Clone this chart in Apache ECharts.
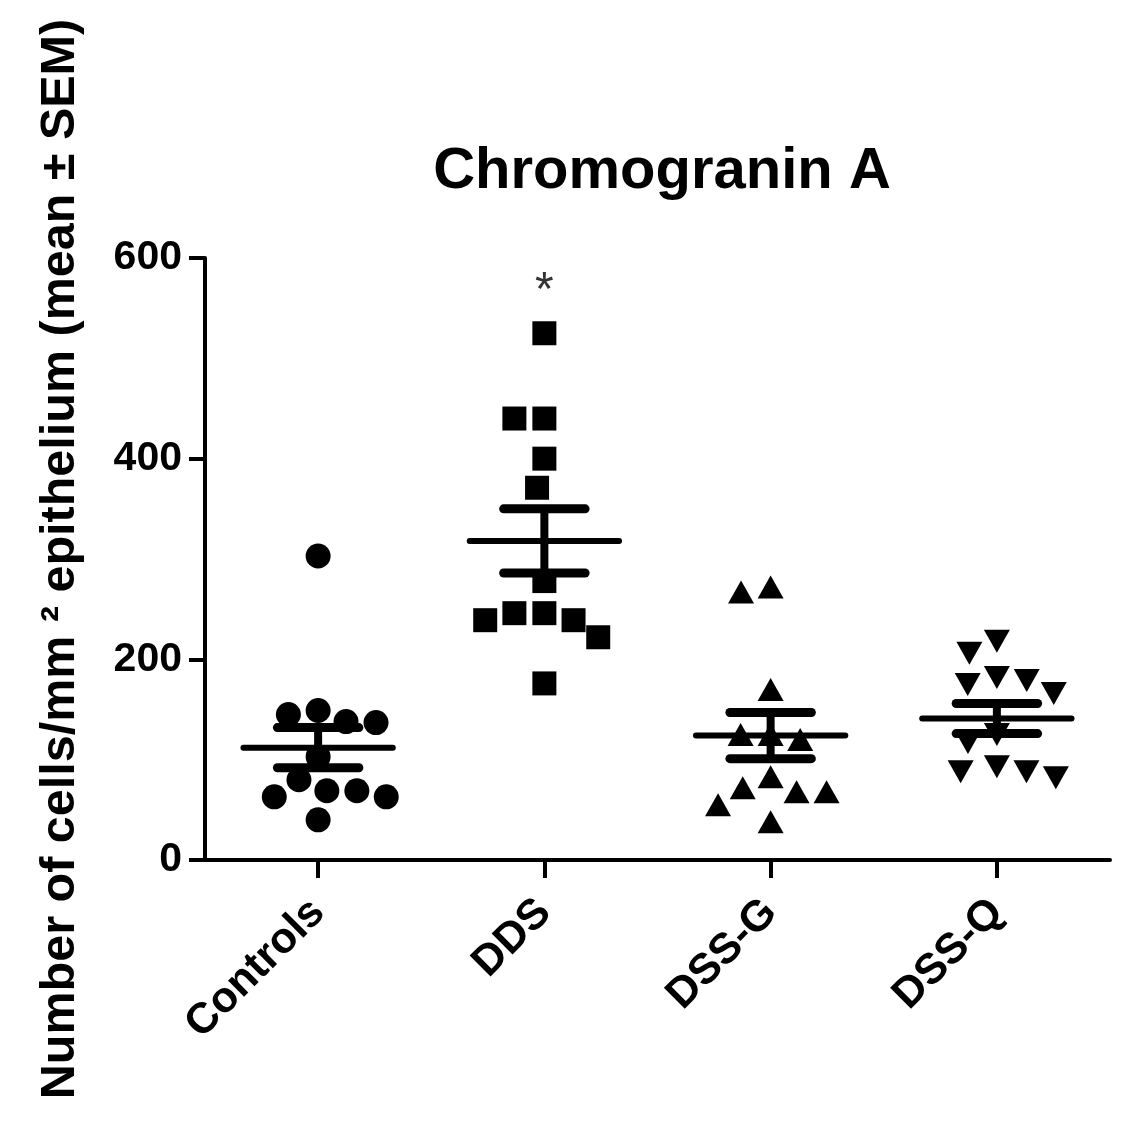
<!DOCTYPE html>
<html lang="en">
<head>
  <meta charset="UTF-8">
  <title>Chromogranin A</title>
  <script src="https://cdn.jsdelivr.net/npm/echarts@6/dist/echarts.min.js"></script>
</head>
<body style="margin:0;background:#fff;">
<div id="main" style="width: 1130px;height:1121px;"></div>
<script type="text/javascript">

// groups and the values
var categories = ['Controls', 'DDS', 'DSS-G', 'DSS-Q'];
var controls = [303, 149, 145, 138, 137, 103, 80, 69, 69, 63, 63, 40];
var dds = [525, 440, 440, 400, 371, 278, 246, 246, 239, 239, 222, 176];
var dssG = [272, 267, 170, 125, 125, 120, 83, 72, 68, 68, 55, 38];
var dssQ = [218, 206, 182, 179, 175, 166, 125, 117, 93, 88, 88, 82];
var means = [112, 318, 124, 141];
var sems = [20, 32, 23, 15];
var yTicks = [0, 200, 400, 600];
var starGroup = 'DDS';
var starValue = 575;

var FONT = '"Liberation Sans", Arial, Helvetica, sans-serif';
var gridTop = 258, gridBottom = 261, gridLeft = 205, gridRight = 20;
var plotH = 1121 - gridTop - gridBottom;
var pxPerUnit = plotH / (yTicks[yTicks.length - 1] - yTicks[0]);

// simple beeswarm: spread points sideways so symbols don't sit on each other
function swarm(values, diam) {
  var order = values.map(function (v, i) { return i; });
  order.sort(function (a, b) { return values[b] - values[a]; });
  var placed = [];
  var offs = new Array(values.length);
  order.forEach(function (i) {
    var y = values[i] * pxPerUnit;
    var cands = [0];
    placed.forEach(function (p) {
      var dy = Math.abs(p.y - y);
      if (dy < diam) {
        var w = Math.sqrt(diam * diam - dy * dy);
        cands.push(p.x - w, p.x + w);
      }
    });
    cands.sort(function (a, b) { return Math.abs(a) - Math.abs(b) || a - b; });
    var x = 0;
    for (var k = 0; k < cands.length; k++) {
      var c = cands[k];
      var ok = placed.every(function (p) {
        var dx = p.x - c, dy = p.y - y;
        return dx * dx + dy * dy >= diam * diam - 0.5;
      });
      if (ok) { x = c; break; }
    }
    placed.push({x: x, y: y});
    offs[i] = x;
  });
  return offs;
}

function groupData(cat, values) {
  var offs = swarm(values, 30);
  return values.map(function (v, i) {
    return {value: [cat, v], symbolOffset: [offs[i], 0]};
  });
}

var groups = [controls, dds, dssG, dssQ];
var shapes = [
  {symbol: 'circle', size: 25, rotate: 0},
  {symbol: 'rect', size: 24, rotate: 0},
  {symbol: 'triangle', size: [26, 23], rotate: 0},
  {symbol: 'triangle', size: [26, 23], rotate: 180}
];

var series = groups.map(function (vals, gi) {
  return {
    type: 'scatter',
    name: categories[gi],
    data: groupData(categories[gi], vals),
    symbol: shapes[gi].symbol,
    symbolSize: shapes[gi].size,
    symbolRotate: shapes[gi].rotate,
    itemStyle: {color: '#000', opacity: 1},
    z: 2
  };
});

// mean line + SEM bars
series.push({
  type: 'custom',
  data: means.map(function (m, i) { return [i, m, sems[i]]; }),
  z: 5,
  renderItem: function (params, api) {
    var ci = api.value(0), m = api.value(1), s = api.value(2);
    var band = api.size([1, 0])[0];
    var c = api.coord([ci, m]);
    var hi = api.coord([ci, m + s]);
    var lo = api.coord([ci, m - s]);
    var meanHalf = band * 0.33, capHalf = band * 0.18;
    return {
      type: 'group',
      children: [
        {type: 'line', shape: {x1: c[0] - meanHalf, y1: c[1], x2: c[0] + meanHalf, y2: c[1]},
          style: {stroke: '#000', lineWidth: 6, lineCap: 'round'}},
        {type: 'line', shape: {x1: c[0], y1: hi[1], x2: c[0], y2: lo[1]},
          style: {stroke: '#000', lineWidth: 8}},
        {type: 'line', shape: {x1: c[0] - capHalf, y1: hi[1], x2: c[0] + capHalf, y2: hi[1]},
          style: {stroke: '#000', lineWidth: 9, lineCap: 'round'}},
        {type: 'line', shape: {x1: c[0] - capHalf, y1: lo[1], x2: c[0] + capHalf, y2: lo[1]},
          style: {stroke: '#000', lineWidth: 9, lineCap: 'round'}}
      ]
    };
  }
});

// significance star
series.push({
  type: 'scatter',
  data: [[starGroup, starValue]],
  symbolSize: 0,
  silent: true,
  label: {
    show: true, position: 'inside', formatter: '*', offset: [0, 9],
    color: '#000', fontSize: 48, fontFamily: FONT
  }
});

var myChart = echarts.init(document.getElementById('main'));

var option = {
  backgroundColor: '#fff',
  animation: false,
  title: {
    text: 'Chromogranin A',
    left: 657,
    textAlign: 'center',
    top: 138,
    textStyle: {color: '#000', fontSize: 58, fontWeight: 'bold', fontFamily: FONT}
  },
  grid: {left: gridLeft, right: gridRight, top: gridTop, bottom: gridBottom},
  xAxis: {
    type: 'category',
    data: categories,
    boundaryGap: true,
    axisLine: {lineStyle: {color: '#000', width: 4}},
    axisTick: {show: true, alignWithLabel: true, length: 18, lineStyle: {color: '#000', width: 4}},
    axisLabel: {
      rotate: 45, margin: 46, color: '#000',
      fontSize: 43, fontWeight: 'bold', fontFamily: FONT
    }
  },
  yAxis: {
    type: 'value',
    min: yTicks[0],
    max: yTicks[yTicks.length - 1],
    interval: yTicks[1] - yTicks[0],
    name: 'Number of cells/mm ² epithelium (mean ± SEM)',
    nameLocation: 'middle',
    nameGap: 120,
    nameTextStyle: {color: '#000', fontSize: 48.5, fontWeight: 'bold', fontFamily: FONT},
    splitLine: {show: false},
    axisLine: {show: true, lineStyle: {color: '#000', width: 4}},
    axisTick: {show: true, length: 16, lineStyle: {color: '#000', width: 4}},
    axisLabel: {margin: 23, color: '#000', fontSize: 41, fontWeight: 'bold', fontFamily: FONT}
  },
  series: series
};

myChart.setOption(option);

</script>
</body>
</html>
